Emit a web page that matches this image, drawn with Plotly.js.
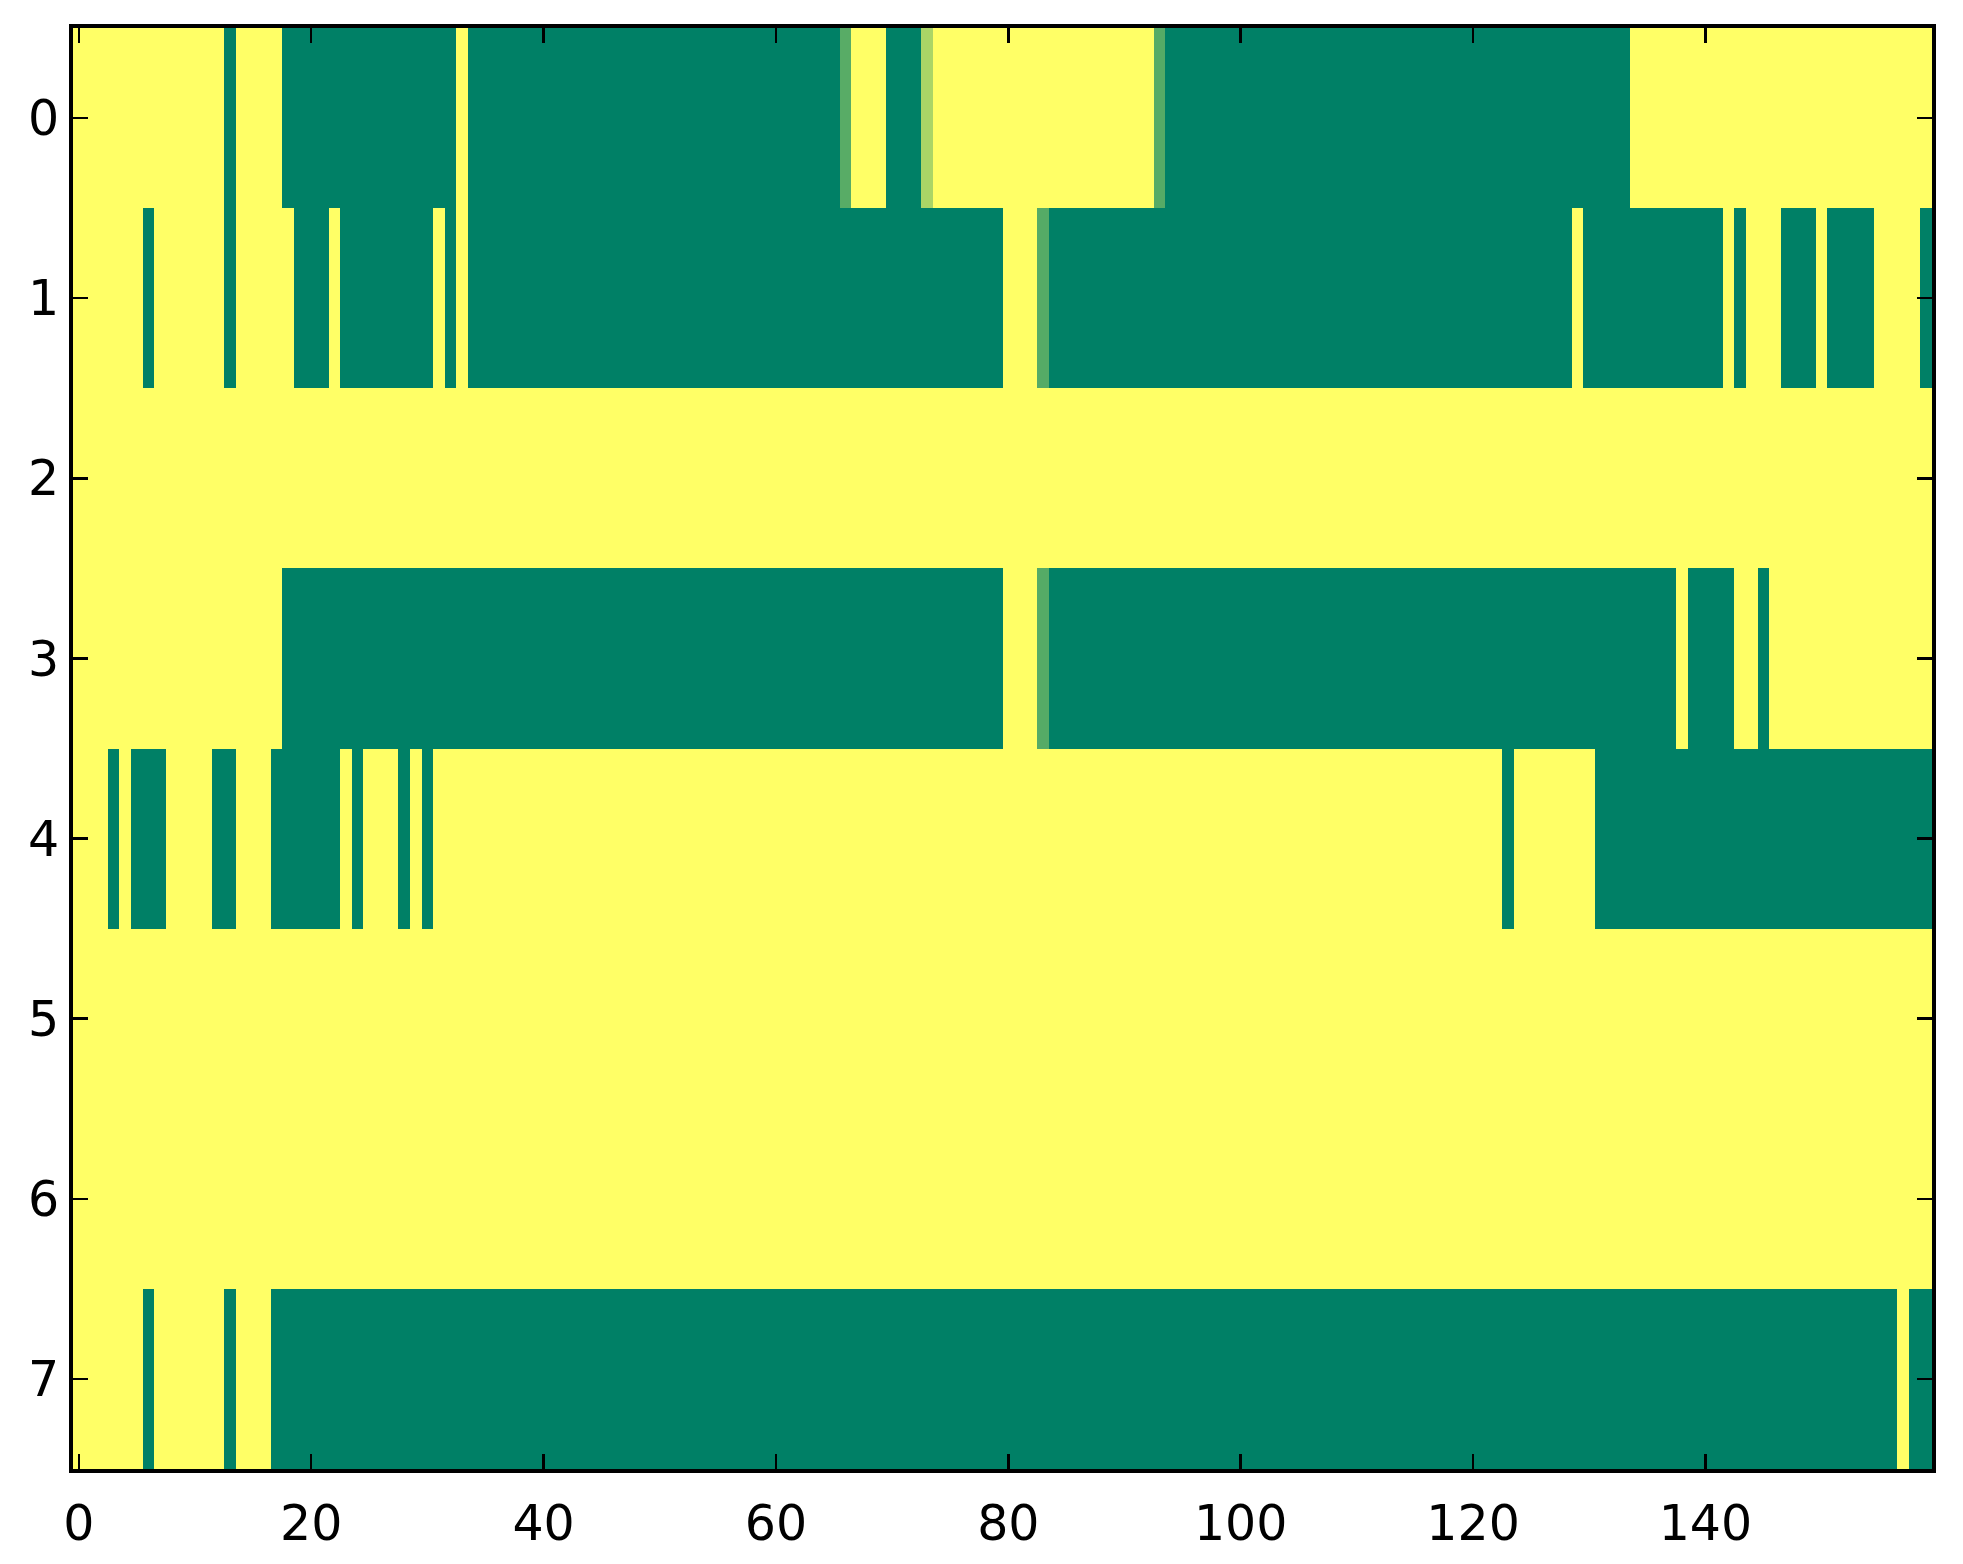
<!DOCTYPE html>
<html>
<head>
<meta charset="utf-8">
<script src="https://cdn.plot.ly/plotly-3.0.1.min.js"></script>
<style>html,body{margin:0;padding:0;background:#fff;}#chart{width:1963px;height:1564px;}</style>
</head>
<body>
<div id="chart"></div>
<script>
// Column indices and row labels
const columns = Array.from({length: 160}, (_, i) => i);
const rows = [0, 1, 2, 3, 4, 5, 6, 7];
const xTickVals = [0, 20, 40, 60, 80, 100, 120, 140];
const xTickText = ["0", "20", "40", "60", "80", "100", "120", "140"];
const yTickVals = [0, 1, 2, 3, 4, 5, 6, 7];
const yTickText = ["0", "1", "2", "3", "4", "5", "6", "7"];

// Cell values (0 = green, 1 = yellow)
const row0 = [
  1,1,1,1,1,1,1,1,1,1,
  1,1,1,0,1,1,1,1,0,0,
  0,0,0,0,0,0,0,0,0,0,
  0,0,0,1,0,0,0,0,0,0,
  0,0,0,0,0,0,0,0,0,0,
  0,0,0,0,0,0,0,0,0,0,
  0,0,0,0,0,0,0.345,1,1,1,
  0,0,0,0.67,1,1,1,1,1,1,
  1,1,1,1,1,1,1,1,1,1,
  1,1,1,0.335,0,0,0,0,0,0,
  0,0,0,0,0,0,0,0,0,0,
  0,0,0,0,0,0,0,0,0,0,
  0,0,0,0,0,0,0,0,0,0,
  0,0,0,0,1,1,1,1,1,1,
  1,1,1,1,1,1,1,1,1,1,
  1,1,1,1,1,1,1,1,1,1
];
const row1 = [
  1,1,1,1,1,1,0,1,1,1,
  1,1,1,0,1,1,1,1,1,0,
  0,0,1,0,0,0,0,0,0,0,
  0,1,0,1,0,0,0,0,0,0,
  0,0,0,0,0,0,0,0,0,0,
  0,0,0,0,0,0,0,0,0,0,
  0,0,0,0,0,0,0,0,0,0,
  0,0,0,0,0,0,0,0,0,0,
  1,1,1,0.335,0,0,0,0,0,0,
  0,0,0,0,0,0,0,0,0,0,
  0,0,0,0,0,0,0,0,0,0,
  0,0,0,0,0,0,0,0,0,0,
  0,0,0,0,0,0,0,0,0,1,
  0,0,0,0,0,0,0,0,0,0,
  0,0,1,0,1,1,1,0,0,0,
  1,0,0,0,0,1,1,1,1,0
];
const row2 = [
  1,1,1,1,1,1,1,1,1,1, 1,1,1,1,1,1,1,1,1,1,
  1,1,1,1,1,1,1,1,1,1, 1,1,1,1,1,1,1,1,1,1,
  1,1,1,1,1,1,1,1,1,1, 1,1,1,1,1,1,1,1,1,1,
  1,1,1,1,1,1,1,1,1,1, 1,1,1,1,1,1,1,1,1,1,
  1,1,1,1,1,1,1,1,1,1, 1,1,1,1,1,1,1,1,1,1,
  1,1,1,1,1,1,1,1,1,1, 1,1,1,1,1,1,1,1,1,1,
  1,1,1,1,1,1,1,1,1,1, 1,1,1,1,1,1,1,1,1,1,
  1,1,1,1,1,1,1,1,1,1, 1,1,1,1,1,1,1,1,1,1
];
const row3 = [
  1,1,1,1,1,1,1,1,1,1,
  1,1,1,1,1,1,1,1,0,0,
  0,0,0,0,0,0,0,0,0,0,
  0,0,0,0,0,0,0,0,0,0,
  0,0,0,0,0,0,0,0,0,0,
  0,0,0,0,0,0,0,0,0,0,
  0,0,0,0,0,0,0,0,0,0,
  0,0,0,0,0,0,0,0,0,0,
  1,1,1,0.335,0,0,0,0,0,0,
  0,0,0,0,0,0,0,0,0,0,
  0,0,0,0,0,0,0,0,0,0,
  0,0,0,0,0,0,0,0,0,0,
  0,0,0,0,0,0,0,0,0,0,
  0,0,0,0,0,0,0,0,1,0,
  0,0,0,1,1,0,1,1,1,1,
  1,1,1,1,1,1,1,1,1,1
];
const row4 = [
  1,1,1,0,1,0,0,0,1,1,
  1,1,0,0,1,1,1,0,0,0,
  0,0,0,1,0,1,1,1,0,1,
  0,1,1,1,1,1,1,1,1,1,
  1,1,1,1,1,1,1,1,1,1,
  1,1,1,1,1,1,1,1,1,1,
  1,1,1,1,1,1,1,1,1,1,
  1,1,1,1,1,1,1,1,1,1,
  1,1,1,1,1,1,1,1,1,1,
  1,1,1,1,1,1,1,1,1,1,
  1,1,1,1,1,1,1,1,1,1,
  1,1,1,1,1,1,1,1,1,1,
  1,1,1,0,1,1,1,1,1,1,
  1,0,0,0,0,0,0,0,0,0,
  0,0,0,0,0,0,0,0,0,0,
  0,0,0,0,0,0,0,0,0,0
];
const row5 = [
  1,1,1,1,1,1,1,1,1,1, 1,1,1,1,1,1,1,1,1,1,
  1,1,1,1,1,1,1,1,1,1, 1,1,1,1,1,1,1,1,1,1,
  1,1,1,1,1,1,1,1,1,1, 1,1,1,1,1,1,1,1,1,1,
  1,1,1,1,1,1,1,1,1,1, 1,1,1,1,1,1,1,1,1,1,
  1,1,1,1,1,1,1,1,1,1, 1,1,1,1,1,1,1,1,1,1,
  1,1,1,1,1,1,1,1,1,1, 1,1,1,1,1,1,1,1,1,1,
  1,1,1,1,1,1,1,1,1,1, 1,1,1,1,1,1,1,1,1,1,
  1,1,1,1,1,1,1,1,1,1, 1,1,1,1,1,1,1,1,1,1
];
const row6 = [
  1,1,1,1,1,1,1,1,1,1, 1,1,1,1,1,1,1,1,1,1,
  1,1,1,1,1,1,1,1,1,1, 1,1,1,1,1,1,1,1,1,1,
  1,1,1,1,1,1,1,1,1,1, 1,1,1,1,1,1,1,1,1,1,
  1,1,1,1,1,1,1,1,1,1, 1,1,1,1,1,1,1,1,1,1,
  1,1,1,1,1,1,1,1,1,1, 1,1,1,1,1,1,1,1,1,1,
  1,1,1,1,1,1,1,1,1,1, 1,1,1,1,1,1,1,1,1,1,
  1,1,1,1,1,1,1,1,1,1, 1,1,1,1,1,1,1,1,1,1,
  1,1,1,1,1,1,1,1,1,1, 1,1,1,1,1,1,1,1,1,1
];
const row7 = [
  1,1,1,1,1,1,0,1,1,1,
  1,1,1,0,1,1,1,0,0,0,
  0,0,0,0,0,0,0,0,0,0,
  0,0,0,0,0,0,0,0,0,0,
  0,0,0,0,0,0,0,0,0,0,
  0,0,0,0,0,0,0,0,0,0,
  0,0,0,0,0,0,0,0,0,0,
  0,0,0,0,0,0,0,0,0,0,
  0,0,0,0,0,0,0,0,0,0,
  0,0,0,0,0,0,0,0,0,0,
  0,0,0,0,0,0,0,0,0,0,
  0,0,0,0,0,0,0,0,0,0,
  0,0,0,0,0,0,0,0,0,0,
  0,0,0,0,0,0,0,0,0,0,
  0,0,0,0,0,0,0,0,0,0,
  0,0,0,0,0,0,0,1,0,0
];

// matplotlib "summer" colormap
const summerScale = [[0, "rgb(0,128,102)"], [1, "rgb(255,255,102)"]];

const z = [row0, row1, row2, row3, row4, row5, row6, row7];

const trace = {
  type: "heatmap",
  x: columns,
  y: rows,
  z: z,
  zmin: 0,
  zmax: 1,
  colorscale: summerScale,
  showscale: false,
  zsmooth: false,
  hoverinfo: "x+y+z"
};

const axisCommon = {
  showgrid: false,
  zeroline: false,
  showline: true,
  linecolor: "#000",
  linewidth: 4,
  mirror: "ticks",
  ticks: "inside",
  ticklen: 15,
  tickwidth: 2.5,
  tickcolor: "#000",
  tickfont: {family: "DejaVu Sans", size: 49, color: "#000"}
};

const layout = {
  width: 1963,
  height: 1564,
  paper_bgcolor: "#fff",
  plot_bgcolor: "#fff",
  margin: {l: 73, r: 31, t: 28, b: 95, pad: 0},
  showlegend: false,
  xaxis: Object.assign({}, axisCommon, {
    range: [-0.5, 159.5],
    tickmode: "array",
    tickvals: xTickVals,
    ticktext: xTickText,
    ticklabelstandoff: 8
  }),
  yaxis: Object.assign({}, axisCommon, {
    range: [7.5, -0.5],
    tickmode: "array",
    tickvals: yTickVals,
    ticktext: yTickText,
    ticklabelstandoff: 0
  })
};

Plotly.newPlot("chart", [trace], layout, {displayModeBar: false, staticPlot: true});
</script>
</body>
</html>
